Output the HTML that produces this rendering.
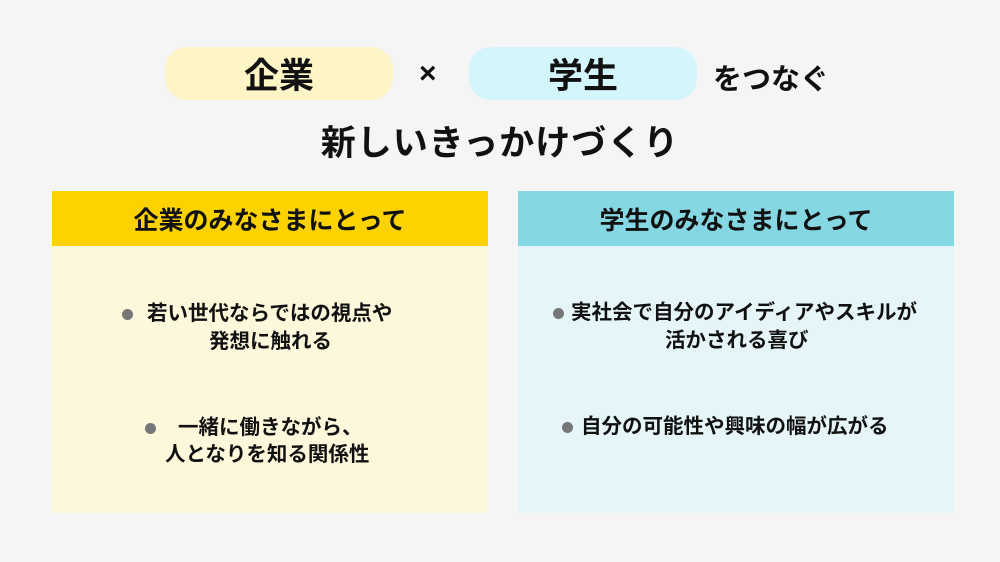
<!DOCTYPE html>
<html><head><meta charset="utf-8"><style>
body{margin:0;width:1000px;height:562px;background:#f5f5f5;position:relative;overflow:hidden;font-family:"Liberation Sans","Noto Sans CJK JP",sans-serif;font-weight:bold;color:#111}
.a{position:absolute}
.pill{border-radius:22px;top:47px;height:53px;width:228px;display:flex;align-items:center;justify-content:center;font-size:35px}
.hd{top:191px;height:55px;width:436px;display:flex;align-items:center;justify-content:center;font-size:25px}
.bd{top:246px;height:267px;width:436px}
.t{font-size:20.5px;line-height:28px;white-space:nowrap}
.dot{width:11px;height:11px;border-radius:50%;background:#777}
</style></head><body>
<div class="a pill" style="left:165px;background:#fef5c6">企業</div>
<div class="a" style="left:419px;top:57px;font-size:30px">×</div>
<div class="a pill" style="left:469px;background:#d2f6fb">学生</div>
<div class="a" style="left:713px;top:56px;font-size:29px">をつなぐ</div>
<div class="a" style="left:0;width:1000px;top:115px;text-align:center;font-size:35px;letter-spacing:1px">新しいきっかけづくり</div>

<div class="a hd" style="left:52px;background:#fcd300">企業のみなさまにとって</div>
<div class="a bd" style="left:52px;background:#fdf8dc"></div>
<div class="a hd" style="left:518px;background:#85d7e3">学生のみなさまにとって</div>
<div class="a bd" style="left:518px;background:#e6f6f8"></div>

<div class="a dot" style="left:122px;top:309px"></div>
<div class="a t" style="left:147px;top:300px">若い世代ならではの視点や</div>
<div class="a t" style="left:209px;top:328px">発想に触れる</div>
<div class="a dot" style="left:145px;top:423px"></div>
<div class="a t" style="left:178px;top:414px">一緒に働きながら、</div>
<div class="a t" style="left:165px;top:441px">人となりを知る関係性</div>

<div class="a dot" style="left:553px;top:308px"></div>
<div class="a t" style="left:571px;top:299px">実社会で自分のアイディアやスキルが</div>
<div class="a t" style="left:665px;top:327px">活かされる喜び</div>
<div class="a dot" style="left:562px;top:422px"></div>
<div class="a t" style="left:581px;top:413px">自分の可能性や興味の幅が広がる</div>
</body></html>
